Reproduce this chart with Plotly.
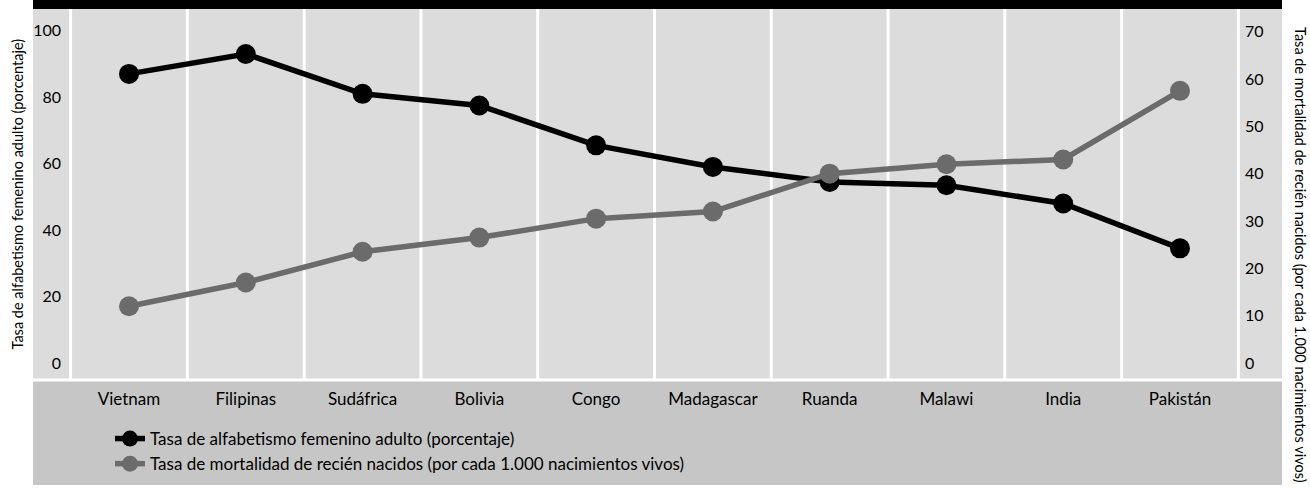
import plotly.graph_objects as go

countries = ["Vietnam", "Filipinas", "Sudáfrica", "Bolivia", "Congo",
             "Madagascar", "Ruanda", "Malawi", "India", "Pakistán"]
literacy = [87, 93, 81, 77.5, 65.5, 59, 54.5, 53.5, 48, 34.5]
mortality = [12, 17, 23.5, 26.5, 30.5, 32, 40, 42, 43, 57.5]

lit_name = "Tasa de alfabetismo femenino adulto (porcentaje)"
mort_name = "Tasa de mortalidad de recién nacidos (por cada 1.000 nacimientos vivos)"

left_ticks = [0, 20, 40, 60, 80, 100]
right_ticks = [0, 10, 20, 30, 40, 50, 60, 70]

FONT = "Lato"
W, H = 1310, 488
ML, MR, MT, MB = 33, 28, 9, 108
PW = W - ML - MR
PH = H - MT - MB

xs = list(range(len(countries)))

fig = go.Figure()
fig.add_trace(go.Scatter(
    x=xs, y=literacy, name=lit_name, mode="lines+markers",
    line=dict(color="#000000", width=5.5), marker=dict(color="#000000", size=20),
    yaxis="y", cliponaxis=False))
fig.add_trace(go.Scatter(
    x=xs, y=mortality, name=mort_name, mode="lines+markers",
    line=dict(color="#6b6b6b", width=5.5), marker=dict(color="#6b6b6b", size=20),
    yaxis="y2", cliponaxis=False))

c0, c9 = 129, 1180
upx = (c9 - c0) / 9
xr0 = -(c0 - ML) / upx
xr1 = 9 + (ML + PW - c9) / upx

shapes = []
shapes.append(dict(type="rect", xref="paper", yref="paper", x0=0, x1=1,
                   y0=1, y1=1 + MT / PH + 0.01, fillcolor="#000000", line_width=0, layer="below"))
shapes.append(dict(type="rect", xref="paper", yref="paper", x0=0, x1=1,
                   y0=-(485 - 380) / PH, y1=0, fillcolor="#c6c6c6", line_width=0, layer="below"))
for k in range(len(countries) + 1):
    shapes.append(dict(type="line", xref="x", yref="paper", x0=k - 0.5, x1=k - 0.5,
                       y0=0, y1=1, line=dict(color="#ffffff", width=3), layer="below"))
shapes.append(dict(type="line", xref="paper", yref="paper", x0=0, x1=1,
                   y0=0, y1=0, line=dict(color="#ffffff", width=3), layer="below"))

zero_px = 363 - MT
lpx = (363 - 30.7) / 100
rpx = (363 - 31.7) / 70
yl = [-(PH - zero_px) / lpx, zero_px / lpx]
yr = [-(PH - zero_px) / rpx, zero_px / rpx]

fig.update_layout(
    width=W, height=H,
    margin=dict(l=ML, r=MR, t=MT, b=MB, autoexpand=False),
    paper_bgcolor="#ffffff", plot_bgcolor="#dcdcdc",
    font=dict(family=FONT, size=16, color="#000000"),
    shapes=shapes,
    xaxis=dict(range=[xr0, xr1], tickvals=xs, ticktext=countries,
               showgrid=False, zeroline=False, showline=False, ticks="",
               tickfont=dict(size=17), ticklabelstandoff=7, automargin=False),
    yaxis=dict(range=yl, tickvals=left_ticks, showgrid=False, zeroline=False,
               showline=False, ticks="", anchor="free", automargin=False,
               position=(61 - ML) / PW, tickfont=dict(size=16)),
    yaxis2=dict(range=yr, tickvals=right_ticks, showgrid=False, zeroline=False,
                showline=False, ticks="", overlaying="y", side="right", automargin=False,
                anchor="free", position=(1244 - ML) / PW, tickfont=dict(size=16)),
    legend=dict(x=(110 - ML) / PW, y=-(421 - 380) / PH, xanchor="left", yanchor="top",
                bgcolor="rgba(0,0,0,0)", font=dict(size=17), tracegroupgap=0),
    annotations=[
        dict(text=lit_name, xref="paper", yref="paper", x=(17 - ML) / PW, y=0.5,
             textangle=-90, showarrow=False, font=dict(size=14.5), xanchor="center", yanchor="middle"),
        dict(text=mort_name, xref="paper", yref="paper", x=(1301 - ML) / PW,
             y=(380 - 255) / PH, textangle=90, showarrow=False, font=dict(size=14.5),
             xanchor="center", yanchor="middle"),
    ],
)

fig.write_html("out.html", config={"displayModeBar": False},
               post_script="document.body.style.margin='0';")
